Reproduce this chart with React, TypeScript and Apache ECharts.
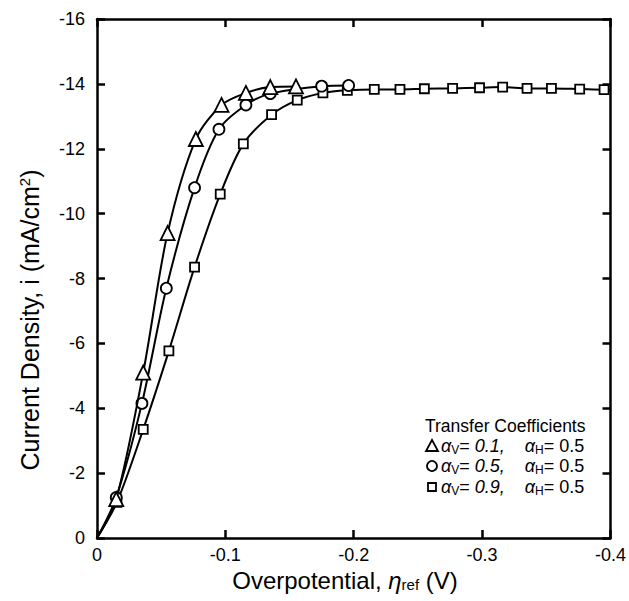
import React, { useEffect, useRef } from "react";
import * as echarts from "echarts";

// Overpotential (V) and current density (mA/cm^2)
const triX = [-0.015, -0.036, -0.055, -0.077, -0.097, -0.116, -0.135, -0.155];
const triY = [-1.2, -5.1, -9.4, -12.3, -13.35, -13.72, -13.9, -13.92];

const cirX = [-0.015, -0.035, -0.054, -0.076, -0.095, -0.116, -0.135, -0.175, -0.196];
const cirY = [-1.25, -4.15, -7.7, -10.8, -12.6, -13.35, -13.7, -13.93, -13.95];

const sqX = [-0.0155, -0.036, -0.056, -0.076, -0.096, -0.114, -0.136, -0.156, -0.176, -0.195,
  -0.216, -0.236, -0.255, -0.277, -0.298, -0.316, -0.335, -0.354, -0.376, -0.395];
const sqY = [-1.1, -3.35, -5.77, -8.35, -10.6, -12.15, -13.05, -13.5, -13.72, -13.8,
  -13.83, -13.83, -13.85, -13.86, -13.88, -13.9, -13.86, -13.86, -13.84, -13.82];

const sqEnd = [-0.4, -13.82];
const origin = [0, 0];

const yTicks = [-16, -14, -12, -10, -8, -6, -4, -2, 0];
const xTicks = [0, -0.1, -0.2, -0.3, -0.4];

const xTitle = "Overpotential, {eta|η}{sub|ref} (V)";
const yTitle = "Current Density, i (mA/cm{sup|2})";
const legendTitle = "Transfer Coefficients";
const legendRows = [
  { av: "0.1", ah: "0.5" },
  { av: "0.5", ah: "0.5" },
  { av: "0.9", ah: "0.5" },
];

const FONT = "'Liberation Sans', Arial, Helvetica, sans-serif";

function build(xs: number[], ys: number[]) {
  const d: any[] = [{ value: origin, symbol: "none" }];
  xs.forEach((x, i) => d.push([x, ys[i]]));
  return d;
}

export default function App() {
  const ref = useRef<HTMLDivElement>(null);
  useEffect(() => {
    if (!ref.current) return;
    const chart = echarts.init(ref.current, null, { renderer: "svg" });
    const axisCommon = {
      axisLine: { show: true, onZero: false, lineStyle: { color: "#000", width: 2.5 } },
      axisTick: { show: true, inside: true, length: 8, lineStyle: { color: "#000", width: 2.5 } },
      splitLine: { show: false },
    };
    const xMin = xTicks[xTicks.length - 1];
    const yMin = yTicks[0];
    const markerStyle = { color: "#fff", borderColor: "#000", borderWidth: 1.8 };
    const lineStyle = { color: "#000", width: 2 };
    const sqData = build(sqX, sqY);
    sqData.push({ value: sqEnd, symbol: "none" });

    const richAlpha = {
      a: { fontFamily: FONT, fontSize: 18, fontStyle: "italic", color: "#000" },
      s: { fontFamily: FONT, fontSize: 12, color: "#000", padding: [7, 0, 0, 0] },
      n: { fontFamily: FONT, fontSize: 18, color: "#000" },
      i: { fontFamily: FONT, fontSize: 18, fontStyle: "italic", color: "#000" },
    };

    const rowY = [446, 466, 487];
    const graphics: any[] = [
      {
        type: "text",
        x: 345,
        y: 580,
        style: {
          text: xTitle,
          fontFamily: FONT,
          fontSize: 24,
          fill: "#000",
          align: "center",
          verticalAlign: "middle",
          rich: {
            eta: { fontFamily: FONT, fontSize: 24, fontStyle: "italic", color: "#000" },
            sub: { fontFamily: FONT, fontSize: 15, color: "#000", padding: [9, 0, 0, 0] },
          },
        },
      },
      {
        type: "text",
        x: 30,
        y: 320,
        rotation: Math.PI / 2,
        style: {
          text: yTitle,
          fontFamily: FONT,
          fontSize: 25,
          fill: "#000",
          align: "center",
          verticalAlign: "middle",
          rich: {
            sup: { fontFamily: FONT, fontSize: 15, color: "#000", padding: [0, 0, 11, 0] },
          },
        },
      },
      {
        type: "text",
        x: 425,
        y: 426,
        style: { text: legendTitle, fontFamily: FONT, fontSize: 17.5, fill: "#000", verticalAlign: "middle" },
      },
      {
        type: "polygon",
        shape: { points: [[432, rowY[0] - 6], [426, rowY[0] + 5], [438, rowY[0] + 5]] },
        style: { fill: "#fff", stroke: "#000", lineWidth: 1.8 },
      },
      {
        type: "circle",
        shape: { cx: 432, cy: rowY[1], r: 5 },
        style: { fill: "#fff", stroke: "#000", lineWidth: 1.8 },
      },
      {
        type: "rect",
        shape: { x: 428, y: rowY[2] - 4, width: 8, height: 8 },
        style: { fill: "#fff", stroke: "#000", lineWidth: 1.8 },
      },
    ];
    legendRows.forEach((r, k) => {
      graphics.push({
        type: "text",
        x: 441,
        y: rowY[k],
        style: {
          text: `{a|α}{s|V}{n|= }{i|${r.av},}{n|    }{a|α}{s|H}{n|= ${r.ah}}`,
          rich: richAlpha,
          verticalAlign: "middle",
          fill: "#000",
        },
      });
    });

    chart.setOption({
      animation: false,
      backgroundColor: "#fff",
      grid: { left: 97, right: 15, top: 19, bottom: 63 },
      xAxis: [
        {
          type: "value",
          min: xMin,
          max: 0,
          interval: 0.1,
          inverse: true,
          position: "bottom",
          ...axisCommon,
          axisLabel: { show: true, color: "#000", fontFamily: FONT, fontSize: 18, margin: 8 },
        },
        {
          type: "value",
          min: xMin,
          max: 0,
          interval: 0.1,
          inverse: true,
          position: "top",
          ...axisCommon,
          axisLabel: { show: false },
        },
      ],
      yAxis: [
        {
          type: "value",
          min: yMin,
          max: 0,
          interval: 2,
          inverse: true,
          position: "left",
          ...axisCommon,
          axisLabel: { show: true, color: "#000", fontFamily: FONT, fontSize: 18, margin: 12 },
        },
        {
          type: "value",
          min: yMin,
          max: 0,
          interval: 2,
          inverse: true,
          position: "right",
          ...axisCommon,
          axisLabel: { show: false },
        },
      ],
      series: [
        {
          type: "line",
          name: "tri",
          data: build(triX, triY),
          smooth: 0.3,
          symbol: "triangle",
          symbolSize: 14,
          itemStyle: markerStyle,
          lineStyle,
          z: 4,
        },
        {
          type: "line",
          name: "cir",
          data: build(cirX, cirY),
          smooth: 0.3,
          symbol: "circle",
          symbolSize: 11,
          itemStyle: markerStyle,
          lineStyle,
          z: 3,
        },
        {
          type: "line",
          name: "sq",
          data: sqData,
          smooth: 0.3,
          symbol: "rect",
          symbolSize: 9,
          itemStyle: markerStyle,
          lineStyle,
          z: 2,
        },
      ],
      graphic: graphics,
    });
    return () => chart.dispose();
  }, []);
  return (
    <div
      ref={ref}
      style={{ position: "absolute", left: 0, top: 0, width: 629, height: 601, background: "#fff" }}
    />
  );
}
